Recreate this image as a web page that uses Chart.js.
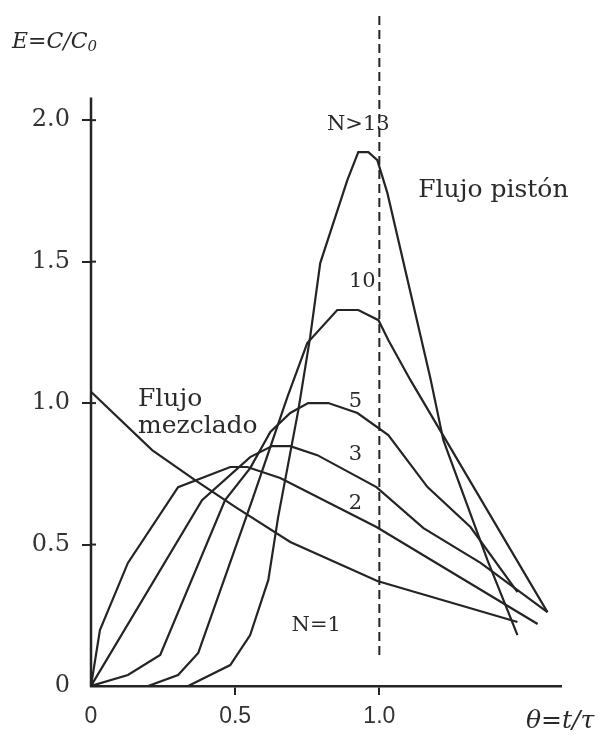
<!DOCTYPE html>
<html>
<head>
<meta charset="utf-8">
<script src="https://cdn.jsdelivr.net/npm/chart.js"></script>
<style>
body{margin:0;background:#fff}
#wrap{width:605px;height:739px}
</style>
</head>
<body>
<div id="wrap"><canvas id="rtd" width="605" height="739"></canvas></div>
<script>
// theta = t/tau on x, E = C/C0 on y
var thetaN1 = [0, 0.212, 0.361, 0.5, 0.691, 0.993, 1.479]
var eN1 = [1.04, 0.834, 0.728, 0.633, 0.509, 0.371, 0.226]

var thetaN2 = [0, 0.031, 0.128, 0.302, 0.483, 0.542, 0.656, 0.99, 1.549]
var eN2 = [0, 0.198, 0.435, 0.703, 0.774, 0.774, 0.735, 0.562, 0.219]

var thetaN3 = [0, 0.385, 0.552, 0.628, 0.691, 0.785, 0.99, 1.153, 1.351, 1.583]
var eN3 = [0, 0.657, 0.809, 0.848, 0.848, 0.816, 0.703, 0.558, 0.435, 0.261]

var thetaN5 = [0, 0.128, 0.24, 0.465, 0.552, 0.622, 0.691, 0.753, 0.823, 0.924, 1.031, 1.167, 1.316, 1.479]
var eN5 = [0, 0.039, 0.11, 0.657, 0.77, 0.898, 0.965, 1.0, 1.0, 0.965, 0.887, 0.703, 0.562, 0.332]

var thetaN10 = [0.198, 0.302, 0.372, 0.559, 0.681, 0.75, 0.854, 0.927, 0.997, 1.031, 1.108, 1.583]
var eN10 = [0, 0.039, 0.117, 0.657, 1.021, 1.212, 1.329, 1.329, 1.293, 1.223, 1.081, 0.261]

var thetaN13 = [0.337, 0.483, 0.552, 0.615, 0.649, 0.719, 0.76, 0.795, 0.889, 0.927, 0.962, 0.993, 1.028, 1.177, 1.222, 1.375, 1.479]
var eN13 = [0, 0.074, 0.18, 0.375, 0.597, 0.975, 1.233, 1.495, 1.788, 1.887, 1.887, 1.859, 1.742, 1.088, 0.869, 0.445, 0.18]

// plug flow reference (dashed)
var pistonTheta = [1.0, 1.0]
var pistonE = [0.11, 2.38]

var xTicks = [0, 0.5, 1.0]
var xLabels = ['0', '0.5', '1.0']
var yTicks = [0, 0.5, 1.0, 1.5, 2.0]
var yLabels = ['0', '0.5', '1.0', '1.5', '2.0']
var yAxisTop = 2.08

var noteText = ['N>13', 'Flujo pistón', '10', '5', '3', '2', 'N=1', 'Flujo', 'mezclado']
var noteTheta = [0.927, 1.135, 0.941, 0.917, 0.917, 0.917, 0.781, 0.163, 0.163]
var noteE = [1.965, 1.728, 1.41, 0.986, 0.799, 0.625, 0.194, 0.99, 0.894]
var noteAlign = ['center', 'left', 'center', 'center', 'center', 'center', 'center', 'left', 'left']
var noteSize = [21, 25, 21, 21, 21, 21, 21, 25, 25]

function pts(xs, ys) {
  return xs.map(function (x, i) { return { x: x, y: ys[i] } })
}

var ink = '#242424'

function curve(xs, ys) {
  return {
    data: pts(xs, ys),
    borderColor: ink,
    borderWidth: 2.2,
    pointRadius: 0,
    tension: 0,
    fill: false
  }
}

var pistonSet = curve(pistonTheta, pistonE)
pistonSet.borderDash = [9, 5]
pistonSet.borderWidth = 2
pistonSet.clip = false

var textPlugin = {
  id: 'textPlugin',
  afterDraw: function (chart) {
    var ctx = chart.ctx
    var xs = chart.scales.x
    var ys = chart.scales.y
    var x0 = xs.getPixelForValue(0)
    ctx.save()
    // y axis only runs up to a bit above 2.0
    ctx.strokeStyle = ink
    ctx.lineWidth = 2.5
    ctx.beginPath()
    ctx.moveTo(x0, ys.getPixelForValue(0) + 1)
    ctx.lineTo(x0, ys.getPixelForValue(yAxisTop))
    ctx.stroke()
    ctx.lineWidth = 2
    for (var i = 1; i < yTicks.length; i++) {
      var py = ys.getPixelForValue(yTicks[i])
      ctx.beginPath()
      ctx.moveTo(x0, py)
      ctx.lineTo(x0 + 5, py)
      ctx.stroke()
    }

    ctx.fillStyle = '#2a2a2a'
    ctx.textBaseline = 'alphabetic'
    for (var k = 0; k < noteText.length; k++) {
      ctx.font = noteSize[k] + 'px "DejaVu Serif"'
      ctx.textAlign = noteAlign[k]
      ctx.fillText(noteText[k], xs.getPixelForValue(noteTheta[k]), ys.getPixelForValue(noteE[k]))
    }

    // axis titles
    ctx.textAlign = 'left'
    ctx.font = 'italic 22px "DejaVu Serif"'
    ctx.fillText('E=C/C', 12, 48)
    var w = ctx.measureText('E=C/C').width
    ctx.font = 'italic 15px "DejaVu Serif"'
    ctx.fillText('0', 12 + w, 51)
    ctx.font = 'italic 25px "DejaVu Serif"'
    ctx.fillText('θ=t/τ', 526, 728)
    ctx.restore()
  }
}

var ctx = document.getElementById('rtd')
var rtdChart = new Chart(ctx, {
  type: 'line',
  data: {
    datasets: [
      curve(thetaN1, eN1),
      curve(thetaN2, eN2),
      curve(thetaN3, eN3),
      curve(thetaN5, eN5),
      curve(thetaN10, eN10),
      curve(thetaN13, eN13),
      pistonSet
    ]
  },
  options: {
    responsive: false,
    animation: false,
    devicePixelRatio: 1,
    layout: { padding: { top: 7, right: 44, left: 0, bottom: 0 } },
    plugins: { legend: { display: false }, tooltip: { enabled: false } },
    scales: {
      x: {
        type: 'linear',
        min: 0,
        max: 1.63,
        afterBuildTicks: function (s) { s.ticks = xTicks.map(function (v) { return { value: v } }) },
        afterFit: function (s) { s.height = 53; s.paddingLeft = 0; s.paddingRight = 0 },
        ticks: {
          autoSkip: false,
          maxRotation: 0,
          padding: 8,
          color: '#333',
          font: { family: 'Liberation Sans', size: 23 },
          callback: function (v) { return xLabels[xTicks.indexOf(v)] }
        },
        grid: {
          drawOnChartArea: false,
          tickLength: 9,
          lineWidth: 2,
          color: function (c) { return c.tick && c.tick.value === 0 ? 'rgba(0,0,0,0)' : ink }
        },
        border: { display: true, color: ink, width: 2.5 }
      },
      y: {
        type: 'linear',
        min: 0,
        max: 2.4,
        afterBuildTicks: function (s) { s.ticks = yTicks.map(function (v) { return { value: v } }) },
        afterFit: function (s) { s.width = 91; s.paddingTop = 0; s.paddingBottom = 0 },
        ticks: {
          autoSkip: false,
          padding: 12,
          color: '#333',
          font: { family: 'DejaVu Serif', size: 24 },
          callback: function (v) { return yLabels[yTicks.indexOf(v)] }
        },
        grid: {
          drawOnChartArea: false,
          tickLength: 9,
          lineWidth: 2,
          color: function (c) { return c.tick && c.tick.value === 0 ? 'rgba(0,0,0,0)' : ink }
        },
        border: { display: false }
      }
    }
  },
  plugins: [textPlugin]
})
</script>
</body>
</html>
